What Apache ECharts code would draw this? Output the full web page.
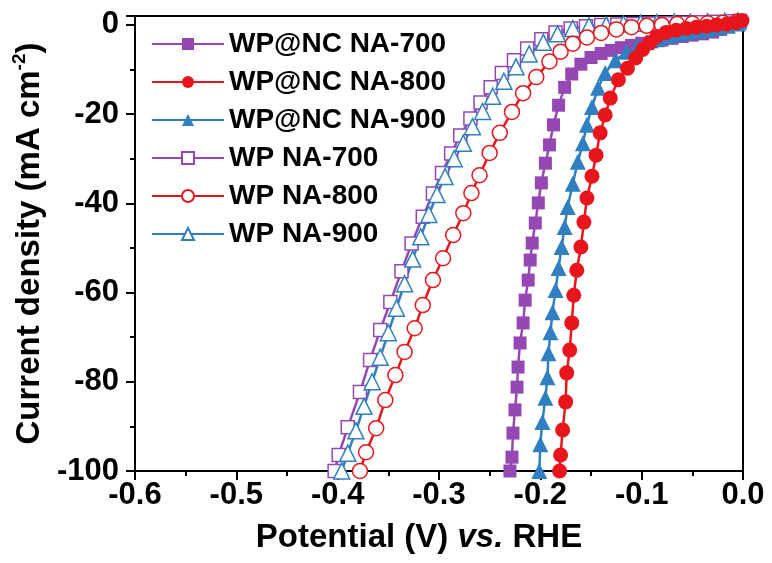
<!DOCTYPE html>
<html>
<head>
<meta charset="utf-8">
<script src="https://cdn.jsdelivr.net/npm/echarts@6/dist/echarts.min.js"></script>
<style>html,body{margin:0;padding:0;background:#fff;}#c{width:772px;height:563px;}</style>
</head>
<body>
<div id="c"></div>
<script>
// ---------- data (Potential V vs RHE, current density mA cm^-2) ----------
const seriesNames = ['WP@NC NA-700', 'WP@NC NA-800', 'WP@NC NA-900', 'WP NA-700', 'WP NA-800', 'WP NA-900'];
const xTicks = [-0.6, -0.5, -0.4, -0.3, -0.2, -0.1, 0.0];
const yTicks = [-100, -80, -60, -40, -20, 0];

const potNC700 = [-0.230,-0.228,-0.227,-0.225,-0.223,-0.222,-0.220,-0.217,-0.215,-0.212,-0.210,-0.208,-0.205,-0.202,-0.199,-0.195,-0.191,-0.187,-0.182,-0.176,-0.169,-0.160,-0.150,-0.140,-0.130,-0.120,-0.110,-0.100,-0.090,-0.080,-0.070,-0.060,-0.050,-0.040,-0.030,-0.022,-0.015,-0.008];
const curNC700 = [-100,-96.9,-91.5,-86.3,-81.2,-76.7,-71.3,-66.8,-61.7,-57.2,-52.7,-48.9,-44.4,-39.9,-35.4,-31.0,-26.9,-22.4,-18.0,-14.0,-11.0,-8.8,-7.3,-6.4,-5.7,-5.1,-4.6,-4.1,-3.8,-3.4,-3.0,-2.6,-2.3,-2.0,-1.6,-1.0,-0.2,0.5];

const potNC800 = [-0.181,-0.180,-0.178,-0.175,-0.174,-0.171,-0.169,-0.167,-0.164,-0.160,-0.157,-0.154,-0.149,-0.145,-0.141,-0.136,-0.131,-0.123,-0.114,-0.106,-0.099,-0.092,-0.085,-0.076,-0.066,-0.056,-0.046,-0.036,-0.026,-0.016,-0.007,-0.001];
const curNC800 = [-100,-96.4,-90.8,-84.5,-78.0,-72.9,-66.8,-60.6,-55.0,-49.8,-44.2,-38.8,-33.9,-29.2,-24.2,-20.2,-16.4,-12.3,-9.7,-7.4,-5.5,-4.0,-2.6,-1.7,-1.2,-0.8,-0.5,-0.3,0.0,0.2,0.5,1.0];

const potNC900 = [-0.201,-0.200,-0.198,-0.195,-0.193,-0.192,-0.190,-0.188,-0.185,-0.182,-0.179,-0.176,-0.173,-0.168,-0.163,-0.158,-0.154,-0.149,-0.143,-0.136,-0.126,-0.115,-0.105,-0.095,-0.085,-0.075,-0.065,-0.055,-0.045,-0.035,-0.025,-0.015,-0.005];
const curNC900 = [-100,-94.0,-89.0,-83.6,-79.0,-73.6,-68.9,-64.4,-59.4,-54.5,-49.8,-45.3,-40.8,-35.6,-30.7,-26.5,-22.4,-18.4,-14.1,-10.8,-7.9,-6.0,-4.8,-3.9,-3.2,-2.6,-2.1,-1.7,-1.3,-1.0,-0.6,-0.2,0.3];

const potWP700 = [-0.403,-0.399,-0.390,-0.378,-0.368,-0.358,-0.348,-0.337,-0.327,-0.316,-0.306,-0.297,-0.288,-0.279,-0.269,-0.259,-0.249,-0.238,-0.226,-0.213,-0.199,-0.185,-0.170,-0.155,-0.140,-0.124,-0.108,-0.092,-0.076,-0.060,-0.044,-0.028,-0.012,-0.003];
const curWP700 = [-100,-96.4,-90.2,-82.3,-75.1,-68.4,-62.1,-55.2,-49.0,-43.0,-37.8,-33.2,-28.8,-24.8,-21.0,-17.4,-14.0,-10.8,-7.9,-5.3,-3.2,-1.7,-0.8,-0.3,0.0,0.1,0.2,0.3,0.4,0.5,0.6,0.7,0.8,0.9];

const potWP800 = [-0.378,-0.372,-0.362,-0.353,-0.343,-0.334,-0.324,-0.316,-0.306,-0.296,-0.286,-0.276,-0.268,-0.260,-0.250,-0.240,-0.228,-0.217,-0.204,-0.191,-0.180,-0.168,-0.154,-0.140,-0.125,-0.110,-0.095,-0.080,-0.065,-0.050,-0.035,-0.020,-0.006];
const curWP800 = [-100,-95.8,-90.4,-84.1,-78.5,-73.3,-68.0,-62.8,-57.2,-52.3,-47.1,-42.2,-37.7,-33.7,-28.7,-24.2,-19.5,-15.3,-11.7,-8.2,-6.0,-4.2,-2.8,-1.8,-1.0,-0.5,-0.2,0.0,0.2,0.3,0.4,0.5,0.7];

const potWP900 = [-0.396,-0.390,-0.382,-0.374,-0.366,-0.358,-0.350,-0.342,-0.334,-0.326,-0.318,-0.310,-0.302,-0.294,-0.285,-0.276,-0.267,-0.257,-0.247,-0.236,-0.224,-0.211,-0.197,-0.183,-0.168,-0.152,-0.135,-0.118,-0.101,-0.085,-0.068,-0.052,-0.035,-0.018,-0.005];
const curWP900 = [-100,-96.0,-91.0,-85.5,-80.0,-74.5,-69.0,-63.5,-58.0,-52.5,-47.5,-42.5,-38.0,-34.0,-30.0,-26.5,-22.8,-19.4,-16.0,-12.6,-9.4,-6.5,-3.9,-2.0,-0.8,-0.2,0.0,0.2,0.4,0.5,0.6,0.6,0.7,0.8,0.9];

// ---------- build ----------
const zip = (xs, ys) => xs.map((x, i) => [x, ys[i]]);
const PURPLE = '#9548b4', RED = '#e8161c', BLUE = '#2f7fc1';

function mk(name, xs, ys, color, symbol, size, filled) {
  return {
    name, type: 'line', data: zip(xs, ys),
    symbol, symbolSize: size, showSymbol: true, showAllSymbol: true,
    lineStyle: { color, width: 2.5 },
    itemStyle: filled ? { color, borderColor: color, borderWidth: 0 }
                      : { color: '#ffffff', borderColor: color, borderWidth: 1.5 },
    color, z: filled ? 3 : 2, animation: false
  };
}

const series = [
  mk(seriesNames[3], potWP700, curWP700, PURPLE, 'rect', 13, false),
  mk(seriesNames[5], potWP900, curWP900, BLUE, 'triangle', 16, false),
  mk(seriesNames[4], potWP800, curWP800, RED, 'circle', 15, false),
  mk(seriesNames[0], potNC700, curNC700, PURPLE, 'rect', 13, true),
  mk(seriesNames[2], potNC900, curNC900, BLUE, 'triangle', 16, true),
  mk(seriesNames[1], potNC800, curNC800, RED, 'circle', 15, true)
];

const FONT = '"Liberation Sans", Arial, sans-serif';
const chart = echarts.init(document.getElementById('c'), null, { renderer: 'canvas' });
chart.setOption({
  animation: false,
  backgroundColor: '#ffffff',
  grid: { left: 135, right: 29, top: 16, bottom: 92, show: true, borderColor: '#000', borderWidth: 2, backgroundColor: 'transparent' },
  legend: {
    data: seriesNames, orient: 'vertical', left: 146, top: 24,
    itemWidth: 72, itemHeight: 15, itemGap: 8,
    textStyle: { fontFamily: FONT, fontWeight: 'bold', fontSize: 28, color: '#000', lineHeight: 30 }
  },
  xAxis: {
    type: 'value', min: xTicks[0], max: xTicks[xTicks.length - 1], interval: 0.1,
    axisLine: { onZero: false, lineStyle: { color: '#000', width: 2 } },
    axisTick: { show: true, inside: false, length: 9, lineStyle: { color: '#000', width: 2 } },
    minorTick: { show: true, splitNumber: 2, length: 5, lineStyle: { color: '#000', width: 2 } },
    splitLine: { show: false },
    axisLabel: { margin: 9, color: '#000', fontFamily: FONT, fontWeight: 'bold', fontSize: 31,
      formatter: v => xTicks.some(t => Math.abs(t - v) < 1e-9) ? Number(v).toFixed(1) : '' },
    name: '{n|Potential (V) }{i|vs.}{n| RHE}', nameLocation: 'middle', nameGap: 50,
    nameTextStyle: { padding: [0, 40, 0, 0],
      rich: { n: { fontFamily: FONT, fontWeight: 'bold', fontSize: 33, color: '#000' },
              i: { fontFamily: FONT, fontWeight: 'bold', fontStyle: 'italic', fontSize: 33, color: '#000' } } }
  },
  yAxis: {
    type: 'value', min: yTicks[0], max: 2, interval: 20,
    axisLine: { onZero: false, lineStyle: { color: '#000', width: 2 } },
    axisTick: { show: true, inside: false, length: 9, lineStyle: { color: '#000', width: 2 } },
    minorTick: { show: true, splitNumber: 2, length: 5, lineStyle: { color: '#000', width: 2 } },
    splitLine: { show: false },
    axisLabel: { margin: 16, color: '#000', fontFamily: FONT, fontWeight: 'bold', fontSize: 31, showMaxLabel: false,
      formatter: v => yTicks.indexOf(v) >= 0 ? String(v) : '' },
    name: '{n|Current density (mA cm}{s|-2}{n|)}', nameLocation: 'middle', nameGap: 86,
    nameTextStyle: { padding: [0, 0, 0, 0],
      rich: { n: { fontFamily: FONT, fontWeight: 'bold', fontSize: 33, color: '#000', lineHeight: 38 },
              s: { fontFamily: FONT, fontWeight: 'bold', fontSize: 19, color: '#000', lineHeight: 19, verticalAlign: 'top' } } }
  },
  series
});
</script>
</body>
</html>
